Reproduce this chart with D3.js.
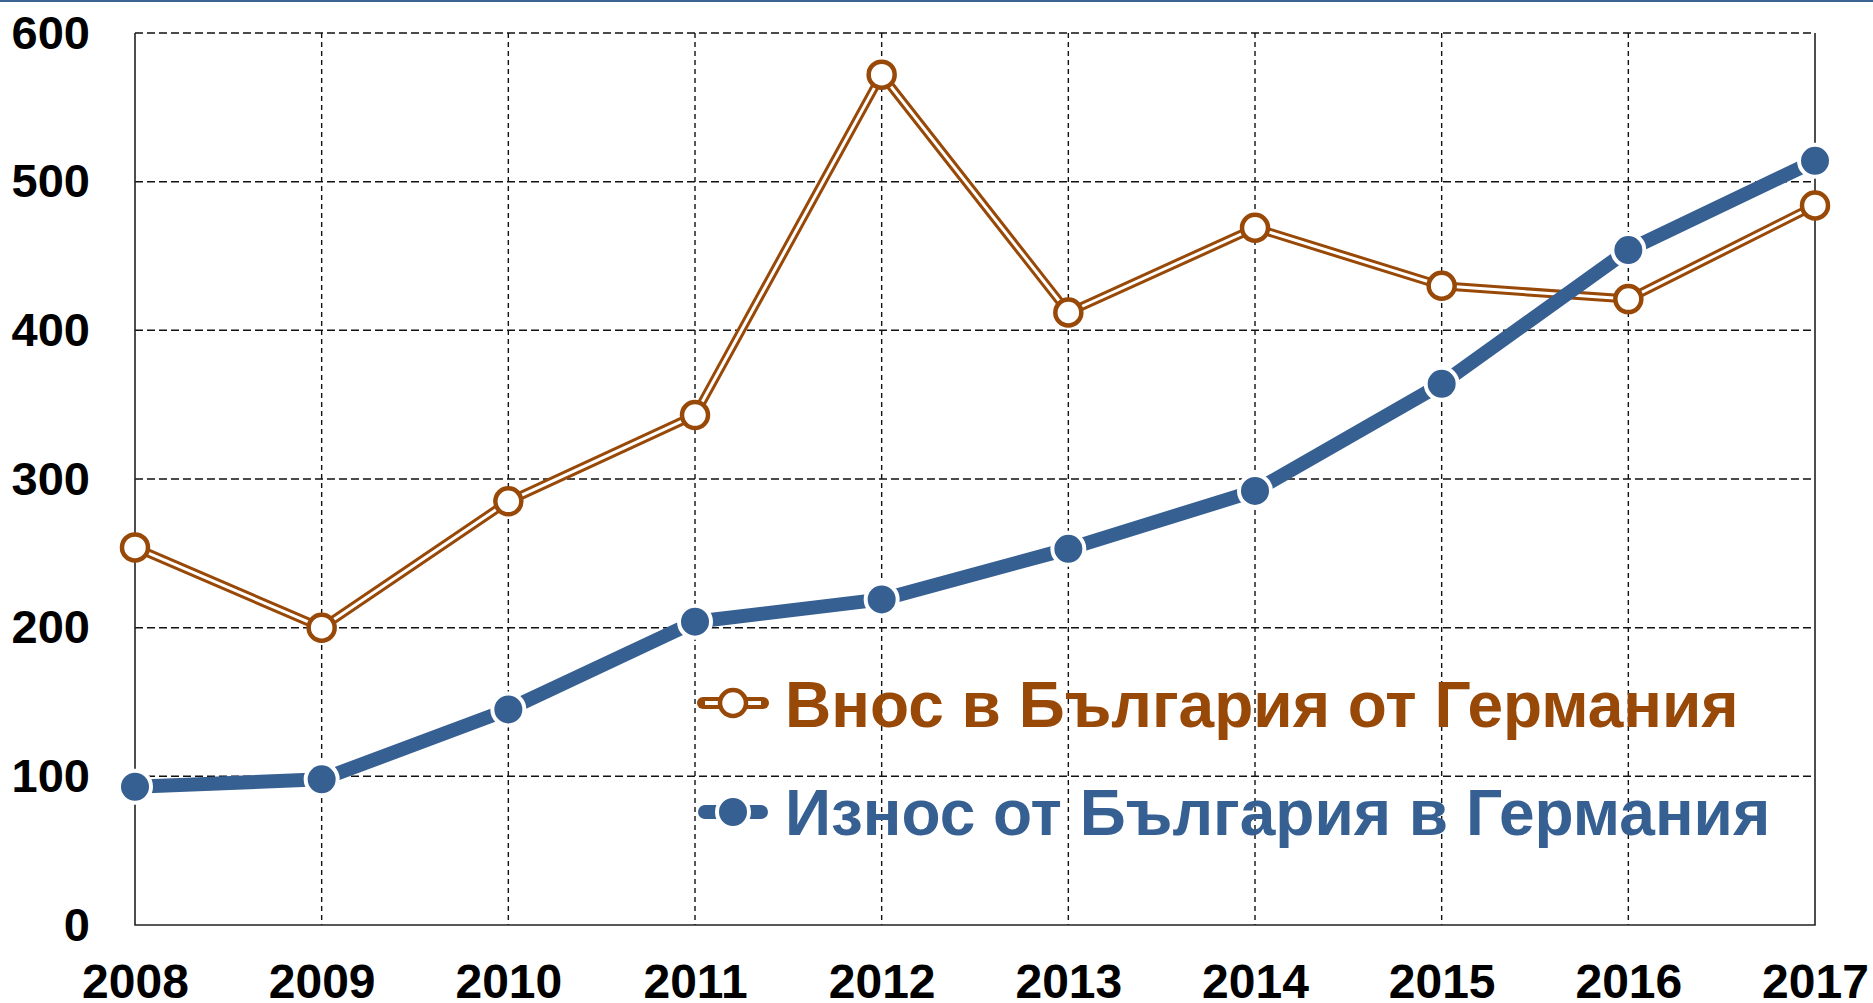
<!DOCTYPE html>
<html>
<head>
<meta charset="utf-8">
<script src="https://cdn.jsdelivr.net/npm/d3@7"></script>
<style>
  body { margin: 0; background: #fff; }
  svg { display: block; font-family: "Liberation Sans", Arial, sans-serif; font-weight: bold; }
</style>
</head>
<body>
<div id="chart"></div>
<script>
// data
const years = ['2008', '2009', '2010', '2011', '2012', '2013', '2014', '2015', '2016', '2017'];
const importValues = [254, 200, 285, 343, 572, 412, 469, 430, 421, 484];
const exportValues = [93, 98, 145, 204, 219, 253, 292, 364, 454, 514];
const yTicks = [0, 100, 200, 300, 400, 500, 600];
const importLabel = 'Внос в България от Германия';
const exportLabel = 'Износ от България в Германия';

const width = 1873, height = 1003;
const brown = '#984807', blue = '#376092';
const plot = { left: 135, right: 1815, top: 33, bottom: 925 };

const x = d3.scalePoint().domain(years).range([plot.left, plot.right]);
const y = d3.scaleLinear().domain([0, 600]).range([plot.bottom, plot.top]);

const svg = d3.select('#chart').append('svg')
  .attr('width', width)
  .attr('height', height);

svg.append('rect').attr('width', width).attr('height', height).attr('fill', '#fff');
// thin blue rule across the top edge
svg.append('rect').attr('width', width).attr('height', 2).attr('fill', '#3a6494');

// grid
svg.append('g').selectAll('line')
  .data(yTicks.slice(1))
  .join('line')
  .attr('x1', plot.left).attr('x2', plot.right)
  .attr('y1', d => y(d)).attr('y2', d => y(d))
  .attr('stroke', '#111').attr('stroke-width', 1.5)
  .attr('stroke-dasharray', '8,4');

svg.append('g').selectAll('line')
  .data(years.slice(1, -1))
  .join('line')
  .attr('x1', d => x(d)).attr('x2', d => x(d))
  .attr('y1', plot.top).attr('y2', plot.bottom)
  .attr('stroke', '#111').attr('stroke-width', 1.4)
  .attr('stroke-dasharray', '5,4');

// plot frame: left, bottom, right solid
svg.append('path')
  .attr('d', `M${plot.left},${plot.top} V${plot.bottom} H${plot.right} V${plot.top}`)
  .attr('fill', 'none').attr('stroke', '#222').attr('stroke-width', 1.6);

// axes
const yAxis = svg.append('g')
  .attr('transform', `translate(${plot.left},0)`)
  .call(d3.axisLeft(y).tickValues(yTicks).tickSize(0).tickPadding(45));
yAxis.select('.domain').remove();
yAxis.selectAll('text').attr('font-size', 47).attr('font-weight', 'bold')
  .attr('font-family', '"Liberation Sans", Arial, sans-serif').attr('fill', '#000');

const xAxis = svg.append('g')
  .attr('transform', `translate(0,${plot.bottom})`)
  .call(d3.axisBottom(x).tickSize(0).tickPadding(39));
xAxis.select('.domain').remove();
xAxis.selectAll('text').attr('font-size', 48).attr('font-weight', 'bold')
  .attr('font-family', '"Liberation Sans", Arial, sans-serif').attr('fill', '#000');

const line = d3.line().x(d => x(d.year)).y(d => y(d.value));
const importData = years.map((year, i) => ({ year, value: importValues[i] }));
const exportData = years.map((year, i) => ({ year, value: exportValues[i] }));

// import series: double line with hollow markers
svg.append('path').attr('d', line(importData))
  .attr('fill', 'none').attr('stroke', brown).attr('stroke-width', 9).attr('stroke-linejoin', 'round');
svg.append('path').attr('d', line(importData))
  .attr('fill', 'none').attr('stroke', '#fff').attr('stroke-width', 3).attr('stroke-linejoin', 'round');
svg.append('g').selectAll('circle')
  .data(importData)
  .join('circle')
  .attr('cx', d => x(d.year)).attr('cy', d => y(d.value)).attr('r', 13)
  .attr('fill', '#fff').attr('stroke', brown).attr('stroke-width', 4.5);

// export series: thick line with solid markers
svg.append('path').attr('d', line(exportData))
  .attr('fill', 'none').attr('stroke', blue).attr('stroke-width', 14).attr('stroke-linejoin', 'round');
svg.append('g').selectAll('circle')
  .data(exportData)
  .join('circle')
  .attr('cx', d => x(d.year)).attr('cy', d => y(d.value)).attr('r', 16)
  .attr('fill', blue).attr('stroke', '#fff').attr('stroke-width', 4);

// legend
const legend = svg.append('g');
const lx = 733;

const l1 = legend.append('g').attr('transform', `translate(${lx},703)`);
l1.append('line').attr('x1', -30).attr('x2', 30)
  .attr('stroke', brown).attr('stroke-width', 12).attr('stroke-linecap', 'round');
l1.append('line').attr('x1', -28).attr('x2', 28)
  .attr('stroke', '#fff').attr('stroke-width', 4);
l1.append('circle').attr('r', 13).attr('fill', '#fff').attr('stroke', brown).attr('stroke-width', 4.5);
l1.append('text').attr('x', 52).attr('y', 24)
  .attr('font-size', 64).attr('fill', brown).text(importLabel);

const l2 = legend.append('g').attr('transform', `translate(${lx},812)`);
l2.append('line').attr('x1', -28).attr('x2', 28)
  .attr('stroke', blue).attr('stroke-width', 14).attr('stroke-linecap', 'round');
l2.append('circle').attr('r', 16).attr('fill', blue).attr('stroke', '#fff').attr('stroke-width', 4);
l2.append('text').attr('x', 52).attr('y', 23)
  .attr('font-size', 64).attr('fill', blue).text(exportLabel);
</script>
</body>
</html>
